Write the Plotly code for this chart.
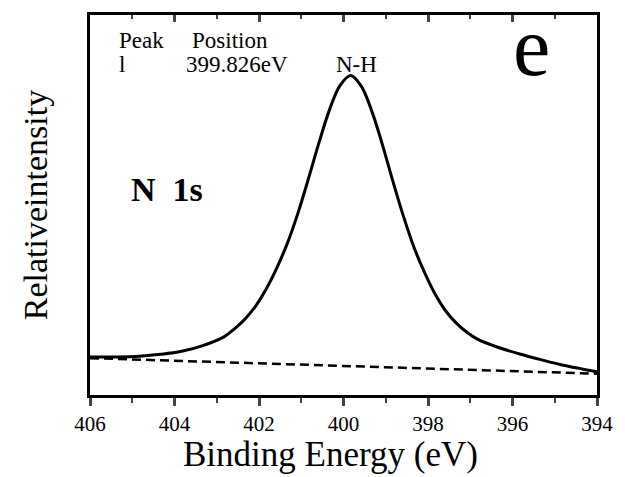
import plotly.graph_objects as go

# Binding energy (eV) and relative intensity (a.u.)
energy = [406.00, 405.33, 404.83, 404.33, 403.83, 403.33, 402.83, 402.58, 402.33, 402.08,
          401.83, 401.58, 401.33, 401.08, 400.83, 400.58, 400.33, 400.08, 399.83, 399.58,
          399.33, 399.08, 398.83, 398.58, 398.33, 398.08, 397.83, 397.58, 397.33, 397.08,
          396.83, 396.33, 395.83, 395.33, 394.83, 394.33, 394.00]
intensity = [10.0, 10.0, 10.2, 10.7, 11.5, 13.0, 15.3, 17.4, 20.0, 23.4,
             27.9, 33.4, 39.9, 47.8, 56.9, 66.4, 75.1, 81.5, 84.1, 81.3,
             74.7, 65.9, 56.2, 47.0, 38.8, 32.2, 26.5, 22.1, 18.9, 16.5,
             14.7, 12.5, 10.8, 9.3, 7.9, 6.8, 6.1]
bg_energy = [406.0, 394.0]
bg_intensity = [9.7, 5.6]

x_ticks = [406, 404, 402, 400, 398, 396, 394]

FONT = "Liberation Serif, DejaVu Serif, Times New Roman, serif"

fig = go.Figure()
fig.add_trace(go.Scatter(x=bg_energy, y=bg_intensity, mode="lines",
                         line=dict(color="black", width=2.5, dash="9px,5px"),
                         showlegend=False, hoverinfo="skip"))
fig.add_trace(go.Scatter(x=energy, y=intensity, mode="lines",
                         line=dict(color="black", width=3, shape="spline", smoothing=1.0),
                         showlegend=False))
# dummy trace for the top axis (inside ticks)
fig.add_trace(go.Scatter(x=[406, 394], y=[None, None], xaxis="x2", mode="lines",
                         showlegend=False, hoverinfo="skip"))

fig.update_layout(
    width=625, height=477,
    margin=dict(l=90, r=18, t=12, b=82),
    plot_bgcolor="white", paper_bgcolor="white",
    font=dict(family=FONT, color="black"),
    xaxis=dict(range=[406, 394], tickvals=x_ticks, ticks="outside", ticklen=8, tickwidth=2.5,
               minor=dict(dtick=1, ticks="outside", ticklen=5, tickwidth=2),
               showline=True, linecolor="black", linewidth=3, mirror=True,
               showgrid=False, zeroline=False, tickfont=dict(size=21, family=FONT)),
    xaxis2=dict(range=[406, 394], overlaying="x", side="top", tickvals=x_ticks,
                ticks="inside", ticklen=7, tickwidth=2.5, showticklabels=False,
                minor=dict(dtick=1, ticks="inside", ticklen=4, tickwidth=2),
                showline=False, showgrid=False, zeroline=False),
    yaxis=dict(range=[0, 100], showticklabels=False, ticks="", showgrid=False, zeroline=False,
               showline=True, linecolor="black", linewidth=3, mirror=True,
               title=dict(text="Relativeintensity", font=dict(size=34, family=FONT), standoff=30)),
)

ann = [
    dict(text="Peak", px=118, py=38, xa="left", size=23),
    dict(text="Position", px=192, py=38, xa="left", size=23),
    dict(text="l", px=118, py=62, xa="left", size=23),
    dict(text="399.826eV", px=186, py=62, xa="left", size=23),
    dict(text="N-H", px=362, py=62, xa="center", size=23),
    dict(text="e", px=540, py=44, xa="center", size=84),
    dict(text="<b>N  1s</b>", px=130, py=188, xa="left", size=34),
]
for a in ann:
    fig.add_annotation(text=a["text"], xref="paper", yref="paper",
                       x=(a["px"] - 90) / 517, y=(395 - a["py"]) / 383,
                       xanchor=a["xa"], yanchor="middle", showarrow=False,
                       font=dict(size=a["size"], family=FONT, color="black"))
fig.add_annotation(text="Binding Energy (eV)", xref="paper", yref="paper",
                   x=(335 - 90) / 517, y=(395 - 455) / 383, xanchor="center", yanchor="middle",
                   showarrow=False, font=dict(size=35, family=FONT, color="black"))

fig.write_html("out.html")
